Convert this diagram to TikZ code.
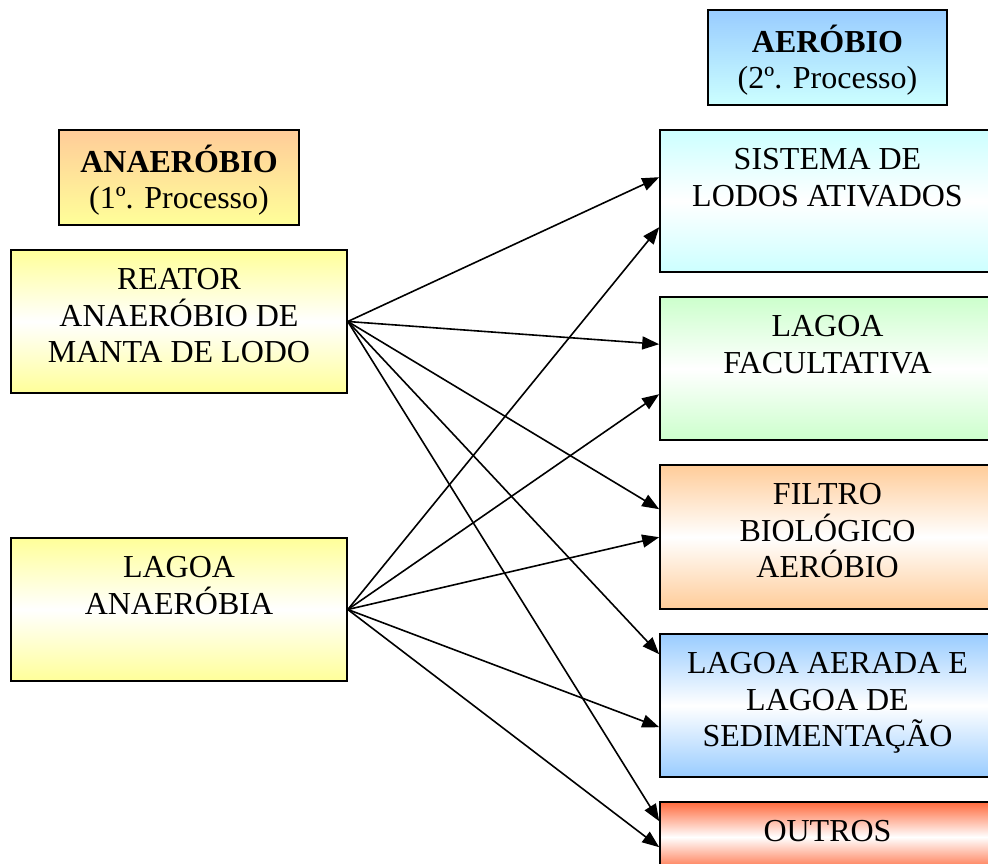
\documentclass[tikz,border=0pt]{standalone}
\usepackage{fontspec}
\setmainfont{Liberation Serif}
\usetikzlibrary{calc,arrows.meta}
\definecolor{cyanL}{HTML}{CCFFFF}
\definecolor{blueL}{HTML}{99CCFF}
\definecolor{orangeL}{HTML}{FFCC99}
\definecolor{yellowL}{HTML}{FFFF99}
\definecolor{greenL}{HTML}{CCFFCC}
\definecolor{redL}{HTML}{FF6A3D}
\tikzset{
  box/.style={draw=black, line width=1.6pt, inner sep=0pt, minimum width=336pt, minimum height=143pt},
  hdr/.style={draw=black, line width=1.6pt, inner sep=0pt, minimum width=240pt, minimum height=95pt},
  txt/.style={anchor=north, align=center, inner sep=0pt, font=\fontsize{32}{36.5}\selectfont},
  arr/.style={line width=1.6pt, -{Triangle[length=17pt,width=13pt]}},
  mid/.style={top color=#1, bottom color=#1, middle color=white}
}
\begin{document}
\begin{tikzpicture}[x=1pt,y=-1pt]
\clip (0,0) rectangle (988,864);
\fill[white] (0,0) rectangle (988,864);
% headers
\node[hdr, top color=orangeL, bottom color=yellowL] (hdrA) at (179,177.5) {};
\node[hdr, minimum width=239pt, top color=blueL, bottom color=cyanL] (hdrB) at (827.5,57.5) {};
% left boxes
\node[box, mid=yellowL] (reator) at (179,321.5) {};
\node[box, mid=yellowL] (lagan) at (179,609.5) {};
% right boxes
\node[box, minimum width=335pt, minimum height=142pt, mid=cyanL] (sist) at (827.5,201) {};
\node[box, minimum width=335pt, mid=greenL] (facul) at (827.5,368.5) {};
\node[box, minimum width=335pt, minimum height=144pt, mid=orangeL] (filtro) at (827.5,537) {};
\node[box, minimum width=335pt, mid=blueL] (aerada) at (827.5,705.5) {};
\node[box, minimum width=335pt, minimum height=70pt, mid=redL] (outros) at (827.5,837) {};
% texts
\node[txt] (tA) at ($(hdrA.north)+(0,15.5)$) {\rule{0pt}{25pt}\textbf{ANAERÓBIO}\\(1º. Processo)};
\node[txt] (tB) at ($(hdrB.north)+(0,15.5)$) {\rule{0pt}{25pt}\textbf{AERÓBIO}\\(2º. Processo)};
\node[txt] (tR) at ($(reator.north)+(0,15.5)$) {\rule{0pt}{25pt}REATOR\\ANAERÓBIO DE\\MANTA DE LODO};
\node[txt] (tL) at ($(lagan.north)+(0,15.5)$) {\rule{0pt}{25pt}LAGOA\\ANAERÓBIA};
\node[txt] (tS) at ($(sist.north)+(0,15.5)$) {\rule{0pt}{25pt}SISTEMA DE\\LODOS ATIVADOS};
\node[txt] (tF) at ($(facul.north)+(0,15.5)$) {\rule{0pt}{25pt}LAGOA\\FACULTATIVA};
\node[txt] (tB2) at ($(filtro.north)+(0,15.5)$) {\rule{0pt}{25pt}FILTRO\\BIOLÓGICO\\AERÓBIO};
\node[txt] (tA2) at ($(aerada.north)+(0,15.5)$) {\rule{0pt}{25pt}LAGOA AERADA E\\LAGOA DE\\SEDIMENTAÇÃO};
\node[txt] (tO) at ($(outros.north)+(0,15.5)$) {\rule{0pt}{25pt}OUTROS};
% arrows from reator
\draw[arr] (reator.east) -- ($(sist.north west)+(0,48)$);
\draw[arr] (reator.east) -- ($(facul.north west)+(0,48)$);
\draw[arr] (reator.east) -- ($(filtro.north west)+(0,45)$);
\draw[arr] (reator.east) -- ($(aerada.north west)+(0,21)$);
\draw[arr] (reator.east) -- ($(outros.north west)+(0,20)$);
% arrows from lagoa anaerobia
\draw[arr] (lagan.east) -- ($(sist.north west)+(0,98)$);
\draw[arr] (lagan.east) -- ($(facul.north west)+(0,98)$);
\draw[arr] (lagan.east) -- ($(filtro.north west)+(0,73)$);
\draw[arr] (lagan.east) -- ($(aerada.north west)+(0,94)$);
\draw[arr] (lagan.east) -- ($(outros.north west)+(0,46)$);
\end{tikzpicture}
\end{document}
